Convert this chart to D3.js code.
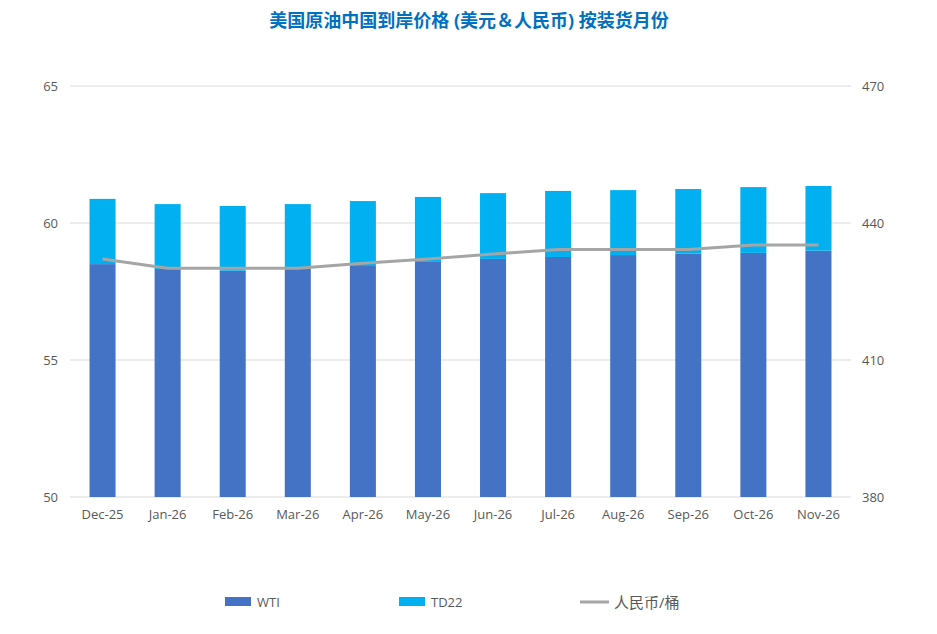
<!DOCTYPE html>
<html>
<head>
<meta charset="utf-8">
<script src="https://cdn.jsdelivr.net/npm/d3@7"></script>
<style>
  body { margin: 0; background: #fff; }
  text { font-family: "Open Sans", "Noto Sans CJK SC", sans-serif; }
</style>
</head>
<body>
<svg width="937" height="634"></svg>
<script>
// data
const months = ["Dec-25", "Jan-26", "Feb-26", "Mar-26", "Apr-26", "May-26", "Jun-26", "Jul-26", "Aug-26", "Sep-26", "Oct-26", "Nov-26"];
const wti = [58.50, 58.32, 58.26, 58.32, 58.43, 58.58, 58.69, 58.76, 58.83, 58.88, 58.91, 58.99];
const td22 = [2.38, 2.37, 2.36, 2.37, 2.37, 2.37, 2.40, 2.41, 2.37, 2.36, 2.40, 2.36];
const rmb = [432.1, 430.1, 430.1, 430.1, 431.2, 432.1, 433.2, 434.2, 434.2, 434.2, 435.2, 435.2];
const leftTicks = [50, 55, 60, 65];
const rightTicks = [380, 410, 440, 470];

const svg = d3.select("svg");
const plotL = 70, plotR = 851, plotT = 86, plotB = 497;

const x = d3.scaleBand().domain(months).range([plotL, plotR]).paddingInner(0.6).paddingOuter(0.3);
const y = d3.scaleLinear().domain([50, 65]).range([plotB, plotT]);
const y2 = d3.scaleLinear().domain([380, 470]).range([plotB, plotT]);

// title
svg.append("text")
  .attr("x", 469).attr("y", 27)
  .attr("text-anchor", "middle")
  .attr("font-size", 18).attr("font-weight", "bold")
  .attr("font-family", "'Noto Sans CJK SC', sans-serif")
  .attr("fill", "#0070C0")
  .text("美国原油中国到岸价格 (美元＆人民币) 按装货月份");

// grid
svg.append("g")
  .selectAll("line")
  .data(leftTicks)
  .enter().append("line")
  .attr("x1", plotL).attr("x2", plotR)
  .attr("y1", d => y(d)).attr("y2", d => y(d))
  .attr("stroke", "#D9D9D9").attr("stroke-width", 1);

// left axis
svg.append("g")
  .attr("transform", "translate(" + plotL + ",0)")
  .call(d3.axisLeft(y).tickValues(leftTicks).tickSize(0).tickPadding(12))
  .call(g => g.select(".domain").remove())
  .call(g => g.selectAll("text").attr("font-size", 13).attr("fill", "#595959")
    .attr("font-family", "'Open Sans', sans-serif"));

// right axis
svg.append("g")
  .attr("transform", "translate(" + plotR + ",0)")
  .call(d3.axisRight(y2).tickValues(rightTicks).tickSize(0).tickPadding(11))
  .call(g => g.select(".domain").remove())
  .call(g => g.selectAll("text").attr("font-size", 13).attr("fill", "#595959")
    .attr("font-family", "'Open Sans', sans-serif"));

// x axis
svg.append("g")
  .attr("transform", "translate(0," + plotB + ")")
  .call(d3.axisBottom(x).tickSize(0).tickPadding(13))
  .call(g => g.select(".domain").remove())
  .call(g => g.selectAll("text").attr("font-size", 13).attr("fill", "#595959")
    .attr("font-family", "'Open Sans', sans-serif"));

// stacked bars
svg.append("g")
  .selectAll("rect")
  .data(months)
  .enter().append("rect")
  .attr("x", d => x(d))
  .attr("width", x.bandwidth())
  .attr("y", (d, i) => y(wti[i]))
  .attr("height", (d, i) => y(50) - y(wti[i]))
  .attr("fill", "#4472C4");

svg.append("g")
  .selectAll("rect")
  .data(months)
  .enter().append("rect")
  .attr("x", d => x(d))
  .attr("width", x.bandwidth())
  .attr("y", (d, i) => y(wti[i] + td22[i]))
  .attr("height", (d, i) => y(wti[i]) - y(wti[i] + td22[i]))
  .attr("fill", "#00B0F0");

// rmb line
const line = d3.line()
  .x((d, i) => x(months[i]) + x.bandwidth() / 2)
  .y(d => y2(d));

svg.append("path")
  .datum(rmb)
  .attr("d", line)
  .attr("fill", "none")
  .attr("stroke", "#A5A5A5")
  .attr("stroke-width", 3)
  .attr("stroke-linejoin", "round");

// legend
const legend = svg.append("g").attr("font-size", 13).attr("fill", "#595959");
legend.append("rect").attr("x", 225).attr("y", 597).attr("width", 26).attr("height", 9).attr("fill", "#4472C4");
legend.append("text").attr("x", 257).attr("y", 607).attr("fill", "#595959").text("WTI");
legend.append("rect").attr("x", 399).attr("y", 597).attr("width", 26).attr("height", 9).attr("fill", "#00B0F0");
legend.append("text").attr("x", 431).attr("y", 607).attr("fill", "#595959").text("TD22");
legend.append("line").attr("x1", 580).attr("x2", 609).attr("y1", 602).attr("y2", 602)
  .attr("stroke", "#A5A5A5").attr("stroke-width", 3);
legend.append("text").attr("x", 614).attr("y", 608).attr("fill", "#595959")
  .attr("font-family", "'Noto Sans CJK SC', sans-serif").attr("font-size", 15).text("人民币/桶");
</script>
</body>
</html>
